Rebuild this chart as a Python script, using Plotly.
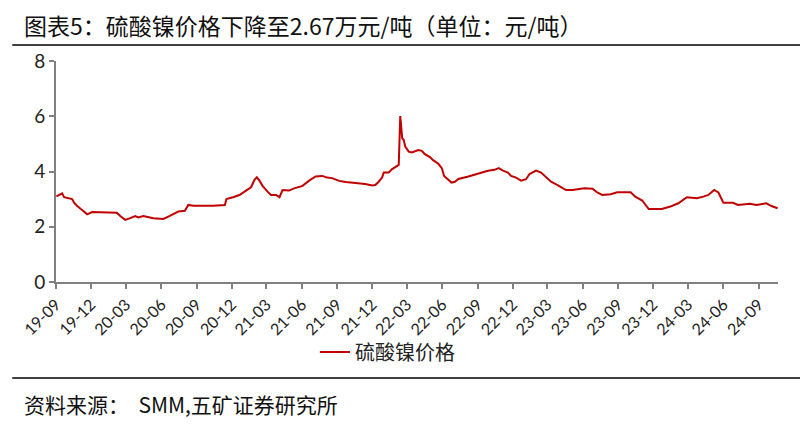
import plotly.graph_objects as go

dates = [
    "2019-09-02", "2019-09-11", "2019-09-17", "2019-09-22", "2019-10-05", "2019-10-13",
    "2019-10-18", "2019-10-26", "2019-11-08", "2019-11-21", "2019-12-04", "2020-02-06",
    "2020-02-15", "2020-02-28", "2020-03-12", "2020-03-25", "2020-04-02", "2020-04-15",
    "2020-05-11", "2020-06-06", "2020-06-19", "2020-07-02", "2020-07-15", "2020-08-01",
    "2020-08-10", "2020-08-23", "2020-10-13", "2020-11-13", "2020-11-17", "2020-12-04",
    "2020-12-21", "2021-01-07", "2021-01-20", "2021-01-29", "2021-02-04", "2021-02-11",
    "2021-02-19", "2021-03-04", "2021-03-13", "2021-03-26", "2021-04-04", "2021-04-12",
    "2021-04-29", "2021-05-12", "2021-06-03", "2021-06-20", "2021-07-07", "2021-07-24",
    "2021-08-06", "2021-08-19", "2021-09-06", "2021-09-23", "2021-10-27", "2021-11-13",
    "2021-12-01", "2021-12-09", "2021-12-18", "2021-12-27", "2021-12-31", "2022-01-13",
    "2022-01-21", "2022-02-03", "2022-02-08", "2022-02-12", "2022-02-17", "2022-02-21",
    "2022-02-25", "2022-03-06", "2022-03-14", "2022-03-31", "2022-04-09", "2022-04-17",
    "2022-04-30", "2022-05-09", "2022-05-22", "2022-05-31", "2022-06-06", "2022-06-17",
    "2022-06-25", "2022-07-04", "2022-07-13", "2022-08-08", "2022-09-02", "2022-09-28",
    "2022-10-15", "2022-10-26", "2022-11-06", "2022-11-19", "2022-11-27", "2022-12-10",
    "2022-12-23", "2023-01-05", "2023-01-14", "2023-01-31", "2023-02-13", "2023-02-26",
    "2023-03-11", "2023-03-28", "2023-04-19", "2023-05-06", "2023-06-05", "2023-06-27",
    "2023-07-09", "2023-07-22", "2023-08-13", "2023-08-30", "2023-10-04", "2023-10-16",
    "2023-11-03", "2023-11-20", "2023-12-24", "2024-01-15", "2024-02-05", "2024-02-27",
    "2024-03-24", "2024-04-10", "2024-04-23", "2024-05-08", "2024-05-19", "2024-06-01",
    "2024-06-26", "2024-07-09", "2024-08-09", "2024-08-26", "2024-09-21", "2024-10-04",
    "2024-10-20",
]

nickel_sulfate = [
    3.10, 3.18, 3.21, 3.07, 3.03, 3.00,
    2.87, 2.75, 2.61, 2.45, 2.53, 2.51,
    2.39, 2.25, 2.31, 2.39, 2.34, 2.39,
    2.31, 2.28, 2.37, 2.45, 2.55, 2.58,
    2.79, 2.76, 2.76, 2.79, 3.00, 3.07,
    3.15, 3.31, 3.43, 3.70, 3.79, 3.67,
    3.48, 3.27, 3.15, 3.15, 3.07, 3.33,
    3.31, 3.39, 3.48, 3.67, 3.82, 3.84,
    3.78, 3.76, 3.66, 3.62, 3.58, 3.55,
    3.49, 3.51, 3.63, 3.79, 3.96, 3.96,
    4.08, 4.18, 4.24, 6.01, 5.21, 5.14,
    4.90, 4.72, 4.69, 4.78, 4.75, 4.63,
    4.52, 4.40, 4.28, 4.12, 3.84, 3.70,
    3.60, 3.63, 3.73, 3.82, 3.91, 4.03,
    4.06, 4.12, 4.03, 3.96, 3.84, 3.78,
    3.67, 3.72, 3.91, 4.03, 3.96, 3.79,
    3.63, 3.51, 3.33, 3.33, 3.39, 3.38,
    3.24, 3.15, 3.18, 3.25, 3.25, 3.09,
    2.95, 2.64, 2.64, 2.73, 2.85, 3.07,
    3.03, 3.09, 3.15, 3.33, 3.24, 2.87,
    2.87, 2.79, 2.83, 2.79, 2.85, 2.75,
    2.67,
]

series_name = "硫酸镍价格"
title_text = "图表5：硫酸镍价格下降至2.67万元/吨（单位：元/吨）"
source_text = "资料来源：  SMM,五矿证券研究所"

CJK = "Liberation Sans Narrow, Noto Sans CJK SC, sans-serif"
TICKF = "Lato, Noto Sans CJK SC, sans-serif"

# figure is drawn inside the page's 8px body margin
W, H = 800, 420
L, T, PW, PH = 44, 53, 726, 221
B = T + PH


def py(yfig):
    return (B - yfig) / PH


def px(xfig):
    return (xfig - L) / PW


fig = go.Figure()
fig.add_trace(go.Scatter(
    x=dates, y=nickel_sulfate, mode="lines", name=series_name,
    line=dict(color="#C00000", width=2),
))

fig.update_layout(
    width=W, height=H, autosize=False,
    margin=dict(l=L, r=W - L - PW, t=T, b=H - B),
    paper_bgcolor="white", plot_bgcolor="white",
    showlegend=True,
    legend=dict(orientation="h", x=0.459, xanchor="center", y=py(344), yanchor="middle",
                font=dict(family=CJK, size=20, color="#222222"), bgcolor="rgba(0,0,0,0)"),
    xaxis=dict(
        type="date", range=["2019-09-01", "2024-10-21"],
        tick0="2019-09-01", dtick="M3", tickformat="%y-%m", tickangle=-45,
        showgrid=False, zeroline=False, showline=True, linecolor="#808080", linewidth=2,
        ticks="outside", ticklen=5, tickcolor="#808080", tickwidth=2,
        tickfont=dict(family=TICKF, size=16, color="#222222"),
    ),
    yaxis=dict(
        range=[0, 8], dtick=2, tick0=0,
        showgrid=False, zeroline=False, showline=True, linecolor="#808080", linewidth=2,
        ticks="outside", ticklen=5, tickcolor="#808080", tickwidth=2,
        tickfont=dict(family=TICKF, size=19, color="#222222"),
    ),
    annotations=[
        dict(text=title_text, xref="paper", yref="paper", x=px(10), y=py(17),
             xanchor="left", yanchor="middle", showarrow=False,
             font=dict(family=CJK, size=23, color="#111111")),
        dict(text=source_text, xref="paper", yref="paper", x=px(10), y=py(396),
             xanchor="left", yanchor="middle", showarrow=False,
             font=dict(family=CJK, size=21, color="#111111")),
    ],
    shapes=[
        dict(type="line", xref="paper", yref="paper", x0=px(0), x1=px(W),
             y0=py(37), y1=py(37), line=dict(color="#000000", width=1.5)),
        dict(type="line", xref="paper", yref="paper", x0=px(0), x1=px(W),
             y0=py(370), y1=py(370), line=dict(color="#000000", width=1.5)),
    ],
)

fig.write_html("out.html")
